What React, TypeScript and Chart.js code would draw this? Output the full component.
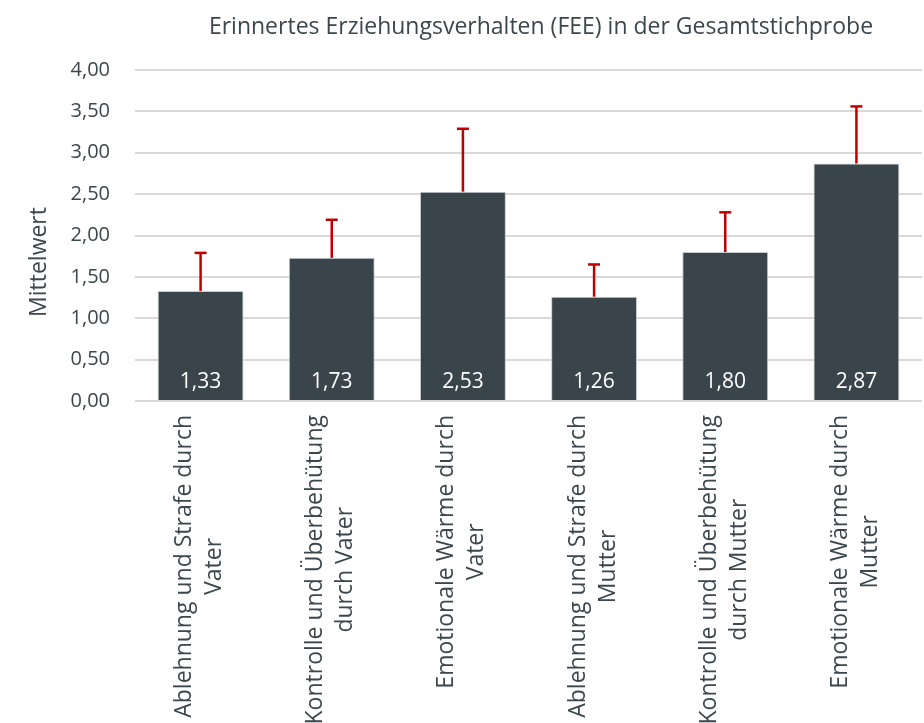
import React, { useEffect, useRef } from "react";
import { Chart, registerables } from "chart.js";

Chart.register(...registerables);

const title = "Erinnertes Erziehungsverhalten (FEE) in der Gesamtstichprobe";
const yAxisTitle = "Mittelwert";
const categories: string[][] = [
  ["Ablehnung und Strafe durch", "Vater"],
  ["Kontrolle und Überbehütung", "durch Vater"],
  ["Emotionale Wärme durch", "Vater"],
  ["Ablehnung und Strafe durch", "Mutter"],
  ["Kontrolle und Überbehütung", "durch Mutter"],
  ["Emotionale Wärme durch", "Mutter"],
];
const means = [1.33, 1.73, 2.53, 1.26, 1.8, 2.87];
const sds = [0.46, 0.46, 0.76, 0.39, 0.48, 0.69];
const yMin = 0;
const yMax = 4;
const yStep = 0.5;

const TEXT = "#3b474d";
const BAR = "#39454b";
const ERR = "#c00000";
const FONT = "'Open Sans', 'Noto Sans', sans-serif";

const fmt = (v: number) => v.toFixed(2).replace(".", ",");

const overlayPlugin = {
  id: "overlay",
  afterDatasetsDraw(chart: any) {
    const ctx = chart.ctx as CanvasRenderingContext2D;
    const y = chart.scales.y;
    const x = chart.scales.x;
    const meta = chart.getDatasetMeta(0);
    const area = chart.chartArea;
    ctx.save();
    // error bars
    meta.data.forEach((bar: any, i: number) => {
      const top = y.getPixelForValue(means[i] + sds[i]);
      ctx.strokeStyle = ERR;
      ctx.lineWidth = 2.5;
      ctx.beginPath();
      ctx.moveTo(bar.x, bar.y);
      ctx.lineTo(bar.x, top);
      ctx.stroke();
      ctx.beginPath();
      ctx.moveTo(bar.x - 6, top);
      ctx.lineTo(bar.x + 6, top);
      ctx.stroke();
    });
    // value labels
    ctx.fillStyle = "#ffffff";
    ctx.font = `21px ${FONT}`;
    ctx.textAlign = "center";
    ctx.textBaseline = "alphabetic";
    meta.data.forEach((bar: any, i: number) => {
      ctx.fillText(fmt(means[i]), bar.x, area.bottom - 13);
    });
    // x labels
    ctx.fillStyle = TEXT;
    ctx.font = `23px ${FONT}`;
    const lineH = 30;
    categories.forEach((lines, i) => {
      const px = x.getPixelForTick(i);
      const maxW = Math.max(...lines.map((l) => ctx.measureText(l).width));
      const cy = area.bottom + 14 + maxW / 2;
      ctx.save();
      ctx.translate(px - 1, cy);
      ctx.rotate(-Math.PI / 2);
      ctx.textAlign = "center";
      ctx.textBaseline = "middle";
      lines.forEach((l, j) => {
        ctx.fillText(l, 0, (j - (lines.length - 1) / 2) * lineH);
      });
      ctx.restore();
    });
    // title
    ctx.font = `23px ${FONT}`;
    ctx.textAlign = "center";
    ctx.textBaseline = "middle";
    ctx.fillText(title, 541, 27);
    // y-axis title
    ctx.save();
    ctx.translate(39, 262);
    ctx.rotate(-Math.PI / 2);
    ctx.font = `23px ${FONT}`;
    ctx.fillText(yAxisTitle, 0, 0);
    ctx.restore();
    ctx.restore();
  },
};

export default function App() {
  const ref = useRef<HTMLCanvasElement>(null);
  useEffect(() => {
    document.body.style.margin = "0";
    const chart = new Chart(ref.current!, {
      type: "bar",
      data: {
        labels: categories.map((c) => c.join(" ")),
        datasets: [
          {
            data: means,
            backgroundColor: BAR,
            borderColor: "#c5cbce",
            borderWidth: 1,
            categoryPercentage: 1,
            barPercentage: 0.655,
          },
        ],
      },
      options: {
        animation: false,
        responsive: false,
        maintainAspectRatio: false,
        layout: { padding: { top: 70, right: 2, left: 0, bottom: 0 } },
        plugins: {
          legend: { display: false },
          title: { display: false },
          tooltip: { enabled: false },
        },
        scales: {
          x: {
            ticks: { display: false },
            grid: { display: false },
            border: { display: false },
            afterFit: (s: any) => {
              s.height = 322;
            },
          },
          y: {
            min: yMin,
            max: yMax,
            ticks: {
              stepSize: yStep,
              padding: 25,
              color: TEXT,
              font: { family: FONT, size: 20 },
              callback: (v: any) => fmt(Number(v)),
            },
            grid: { color: "#d9d9d9", lineWidth: 2, drawTicks: false },
            border: { display: false },
            afterFit: (s: any) => {
              s.width = 135;
            },
          },
        },
      },
      plugins: [overlayPlugin],
    });
    return () => chart.destroy();
  }, []);
  return (
    <div style={{ width: 924, height: 723 }}>
      <canvas ref={ref} width={924} height={723} style={{ display: "block" }} />
    </div>
  );
}
